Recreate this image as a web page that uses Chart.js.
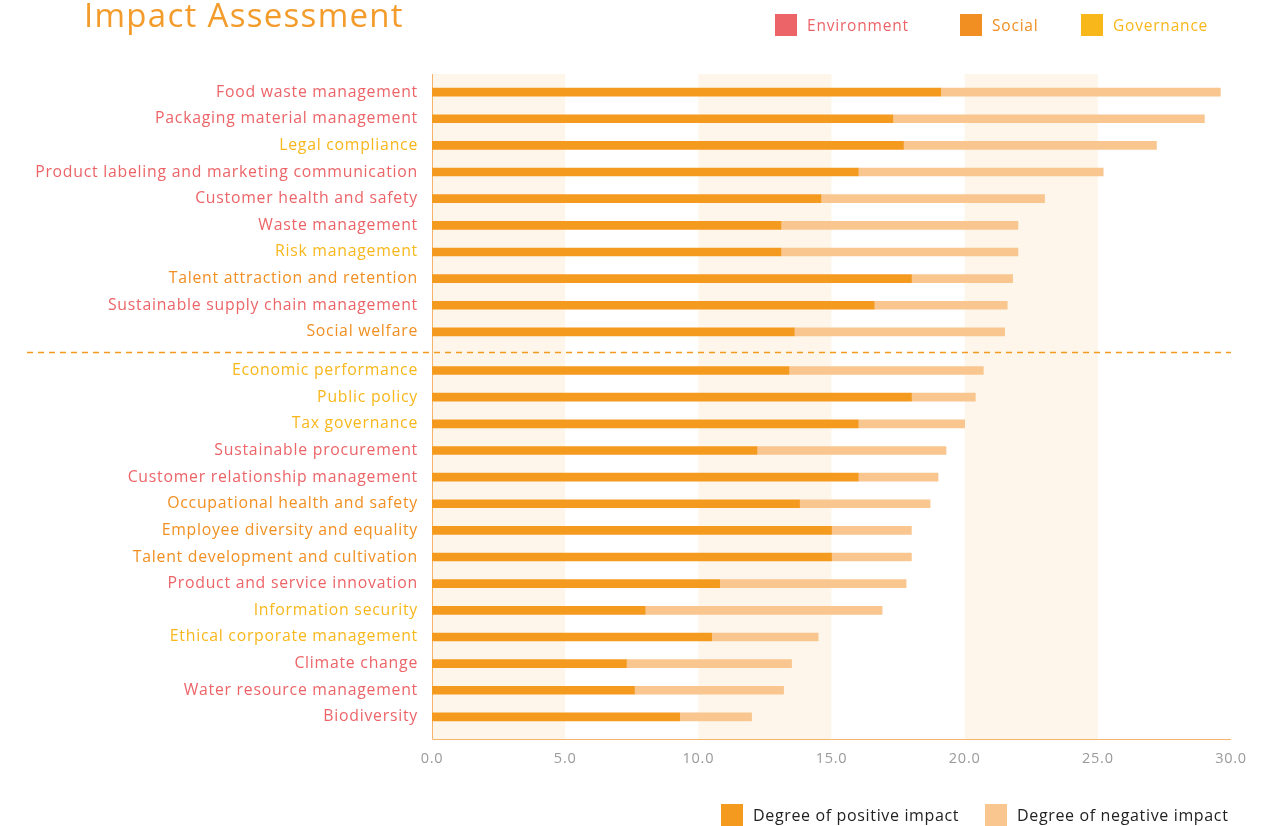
<!DOCTYPE html>
<html>
<head>
<meta charset="utf-8">
<script src="https://cdn.jsdelivr.net/npm/chart.js@4.4.1/dist/chart.umd.min.js"></script>
<style>
  html, body { margin: 0; padding: 0; background: #fff; }
  body { width: 1266px; height: 826px; position: relative; overflow: hidden; font-family: "Open Sans", sans-serif; }
  #impactChart { position: absolute; left: 0; top: 0; }
  .title { position: absolute; left: 84px; top: -8px; font-size: 33px; font-weight: 500; letter-spacing: 1.3px; color: #F39C2C; white-space: nowrap; }
  .legend { position: absolute; display: flex; align-items: center; font-size: 15.5px; letter-spacing: 0.8px; white-space: nowrap; }
  .legend span.box { display: inline-block; width: 22px; height: 22px; margin-right: 10px; }
  .legend.bottom { font-size: 16px; letter-spacing: 0.65px; }
</style>
</head>
<body>
<canvas id="impactChart" width="1266" height="826"></canvas>
<div class="title">Impact Assessment</div>
<div class="legend" style="left:775px; top:14px; color:#EC6468"><span class="box" style="background:#EC6468"></span>Environment</div>
<div class="legend" style="left:960px; top:14px; color:#F18F22"><span class="box" style="background:#F18F22"></span>Social</div>
<div class="legend" style="left:1081px; top:14px; color:#F8B71B"><span class="box" style="background:#F8B71B"></span>Governance</div>
<div class="legend bottom" style="left:721px; top:804px; color:#222"><span class="box" style="background:#F39A1F"></span>Degree of positive impact</div>
<div class="legend bottom" style="left:985px; top:804px; color:#222"><span class="box" style="background:#F8C68E"></span>Degree of negative impact</div>
<script>
// topik material, urut dari atas ke bawah
const topics = [
  "Food waste management", "Packaging material management", "Legal compliance",
  "Product labeling and marketing communication", "Customer health and safety",
  "Waste management", "Risk management", "Talent attraction and retention",
  "Sustainable supply chain management", "Social welfare",
  "Economic performance", "Public policy", "Tax governance", "Sustainable procurement",
  "Customer relationship management", "Occupational health and safety",
  "Employee diversity and equality", "Talent development and cultivation",
  "Product and service innovation", "Information security",
  "Ethical corporate management", "Climate change", "Water resource management", "Biodiversity"
];
// E = Environment, S = Social, G = Governance
const pillar = ["E","E","G","E","E","E","G","S","E","S","G","G","G","E","E","S","S","S","E","G","G","E","E","E"];
const positiveImpact = [19.1, 17.3, 17.7, 16.0, 14.6, 13.1, 13.1, 18.0, 16.6, 13.6, 13.4, 18.0, 16.0, 12.2, 16.0, 13.8, 15.0, 15.0, 10.8, 8.0, 10.5, 7.3, 7.6, 9.3];
const negativeImpact = [10.5, 11.7, 9.5, 9.2, 8.4, 8.9, 8.9, 3.8, 5.0, 7.9, 7.3, 2.4, 4.0, 7.1, 3.0, 4.9, 3.0, 3.0, 7.0, 8.9, 4.0, 6.2, 5.6, 2.7];
const xTicks = [0, 5, 10, 15, 20, 25, 30];
const highTopicCount = 10; // garis putus-putus setelah topik ke-10

const pillarColor = { E: "#EC6468", S: "#F18F22", G: "#F8B71B" };

// posisi baris di sumbu y (ada jarak ekstra setelah kelompok atas)
const sepGap = 0.45;
const rowPos = topics.map((_, i) => i < highTopicCount ? i : i + sepGap);

// latar belang + sumbu + garis pemisah
const decorPlugin = {
  id: "decor",
  beforeDraw(chart) {
    chart.ctx.letterSpacing = "0.75px";
  },
  beforeDatasetsDraw(chart) {
    const { ctx, chartArea, scales } = chart;
    const x = scales.x, y = scales.y;
    const top = chartArea.top, bottom = chartArea.bottom;
    ctx.save();
    ctx.fillStyle = "#FEF6EA";
    for (let i = 0; i < xTicks.length - 1; i += 2) {
      const x0 = x.getPixelForValue(xTicks[i]);
      const x1 = x.getPixelForValue(xTicks[i + 1]);
      ctx.fillRect(x0, top, x1 - x0, bottom - top);
    }
    ctx.strokeStyle = "#F6B46A";
    ctx.lineWidth = 1;
    ctx.beginPath();
    ctx.moveTo(chartArea.left + 0.5, top);
    ctx.lineTo(chartArea.left + 0.5, bottom + 0.5);
    ctx.lineTo(chartArea.right, bottom + 0.5);
    ctx.stroke();
    const mid = (y.getPixelForValue(rowPos[highTopicCount - 1]) + y.getPixelForValue(rowPos[highTopicCount])) / 2;
    const yd = Math.round(mid) + 1.5;
    ctx.strokeStyle = "#F39A1F";
    ctx.lineWidth = 1.5;
    ctx.setLineDash([6, 5]);
    ctx.beginPath();
    ctx.moveTo(27, yd);
    ctx.lineTo(chartArea.right, yd);
    ctx.stroke();
    ctx.restore();
  }
};

new Chart(document.getElementById("impactChart"), {
  type: "bar",
  data: {
    datasets: [
      {
        label: "Degree of positive impact",
        data: positiveImpact.map((v, i) => ({ x: v, y: rowPos[i] })),
        backgroundColor: "#F39A1F",
        barThickness: 8
      },
      {
        label: "Degree of negative impact",
        data: negativeImpact.map((v, i) => ({ x: v, y: rowPos[i] })),
        backgroundColor: "#F8C68E",
        barThickness: 8
      }
    ]
  },
  options: {
    indexAxis: "y",
    responsive: false,
    animation: false,
    layout: { padding: { top: 74, bottom: 47, left: 0, right: 35 } },
    scales: {
      x: {
        type: "linear",
        stacked: true,
        min: 0,
        max: 30,
        grid: { display: false, drawTicks: false },
        border: { display: false },
        afterBuildTicks: s => { s.ticks = xTicks.map(v => ({ value: v })); },
        afterFit: s => { s.height = 40; },
        ticks: {
          padding: 11,
          color: "#9A9A9A",
          font: { family: "Open Sans", size: 14.5 },
          callback: v => Number(v).toFixed(1)
        }
      },
      y: {
        type: "linear",
        reverse: true,
        offset: false,
        stacked: true,
        min: -0.68,
        max: 24.28,
        grid: { display: false, drawTicks: false },
        border: { display: false },
        afterFit: s => { s.width = 432; },
        afterBuildTicks: s => { s.ticks = rowPos.map(v => ({ value: v })); },
        ticks: {
          padding: 14,
          autoSkip: false,
          font: { family: "Open Sans", size: 15.8 },
          callback: (v, i) => topics[i],
          color: ctx => pillarColor[pillar[ctx.index]]
        }
      }
    },
    plugins: {
      legend: { display: false },
      tooltip: { enabled: false }
    }
  },
  plugins: [decorPlugin]
});
</script>
</body>
</html>
